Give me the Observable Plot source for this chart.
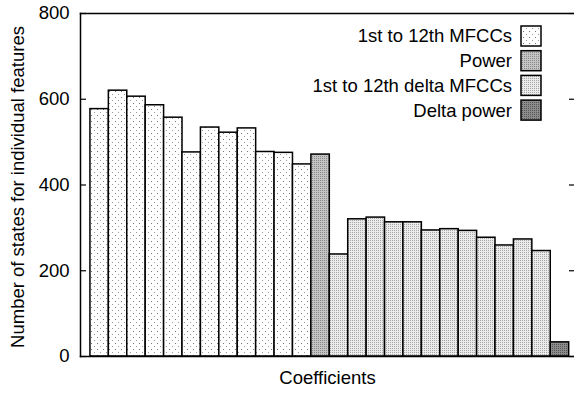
<!DOCTYPE html>
<html>
<head>
<meta charset="utf-8">
<script src="https://cdn.jsdelivr.net/npm/d3@7"></script>
<script src="https://cdn.jsdelivr.net/npm/@observablehq/plot@0.6"></script>
<style>
  html, body { margin: 0; padding: 0; background: #fff; }
  #chart svg { display: block; }
</style>
</head>
<body>
<div id="chart"></div>
<script>
// ---- data ----
const groupNames = ["1st to 12th MFCCs", "Power", "1st to 12th delta MFCCs", "Delta power"];
const mfccValues = [577, 620, 606, 586, 557, 476, 534, 522, 532, 477, 475, 448];
const powerValues = [471];
const deltaMfccValues = [238, 320, 324, 313, 313, 294, 297, 293, 277, 259, 273, 246];
const deltaPowerValues = [33];
const yTicks = [0, 200, 400, 600, 800];
const xLabel = "Coefficients";
const yLabel = "Number of states for individual features";

const patternIds = ["pMfcc", "pPower", "pDeltaMfcc", "pDeltaPower"];
const seriesList = [mfccValues, powerValues, deltaMfccValues, deltaPowerValues];
const bars = [];
seriesList.forEach((vals, g) => vals.forEach(v => bars.push({i: bars.length, g, value: v})));

const font = "'Liberation Sans', Arial, Helvetica, sans-serif";

const chart = Plot.plot({
  width: 574,
  height: 394,
  marginLeft: 80,
  marginRight: 0,
  marginTop: 13,
  marginBottom: 38,
  style: {fontFamily: font, fontSize: "18.5px", color: "#000", background: "#fff", overflow: "visible"},
  x: {domain: [-1.04, 25.79], axis: null},
  y: {domain: [0, 800], axis: null},
  marks: [
    ...patternIds.map((pid, g) =>
      Plot.rectY(bars.filter(d => d.g === g), {
        x1: d => d.i - 0.5, x2: d => d.i + 0.5, y: "value",
        fill: `url(#${pid})`, stroke: "#000", strokeWidth: 1.5
      })
    ),
    Plot.axisY({anchor: "left", ticks: yTicks, tickSize: 0, tickPadding: 11, label: null, fontSize: 18.5}),
    Plot.axisY({anchor: "left", ticks: yTicks, tickSize: 6, dx: 6, text: null, label: null, strokeWidth: 1.2}),
    Plot.axisY({anchor: "right", ticks: yTicks, tickSize: 6, dx: -6, text: null, label: null, strokeWidth: 1.2}),
    Plot.frame({anchor: "left", strokeWidth: 1.5}),
    Plot.frame({anchor: "top", strokeWidth: 1.5}),
    Plot.frame({anchor: "bottom", strokeWidth: 1.5}),
    Plot.text([xLabel], {frameAnchor: "bottom", dy: 22, text: d => d, textAnchor: "middle", lineAnchor: "middle", fontSize: 18.5}),
    Plot.text([yLabel], {frameAnchor: "left", dx: -62, dy: 2, rotate: -90, text: d => d, textAnchor: "middle", lineAnchor: "middle", fontSize: 18.5})
  ]
});

// patterns
const svg = d3.select(chart);
const defs = svg.insert("defs", ":first-child");
function pattern(id, size, bg, dots) {
  const p = defs.append("pattern").attr("id", id).attr("patternUnits", "userSpaceOnUse")
    .attr("width", size).attr("height", size);
  p.append("rect").attr("width", size).attr("height", size).attr("fill", bg);
  dots.forEach(([x, y, c]) => p.append("rect").attr("x", x).attr("y", y).attr("width", 1).attr("height", 1).attr("fill", c));
}
pattern("pMfcc", 6, "#ffffff", [[1, 1, "#777"], [4, 4, "#999"]]);
pattern("pPower", 2, "#c4c4c4", [[0, 0, "#888"]]);
pattern("pDeltaMfcc", 2, "#ebebeb", [[0, 0, "#a6a6a6"]]);
pattern("pDeltaPower", 2, "#8c8c8c", [[0, 0, "#555"]]);

// legend
const legend = svg.append("g").attr("font-family", font).attr("font-size", "18.5px");
groupNames.forEach((name, k) => {
  const cy = 36 + k * 24.7;
  legend.append("text").attr("x", 512).attr("y", cy).attr("dy", "0.35em")
    .attr("text-anchor", "end").attr("fill", "#000").text(name);
  legend.append("rect").attr("x", 521).attr("y", cy - 10).attr("width", 20).attr("height", 20)
    .attr("fill", `url(#${patternIds[k]})`).attr("stroke", "#000").attr("stroke-width", 1.5);
});

document.getElementById("chart").appendChild(chart);
</script>
</body>
</html>
